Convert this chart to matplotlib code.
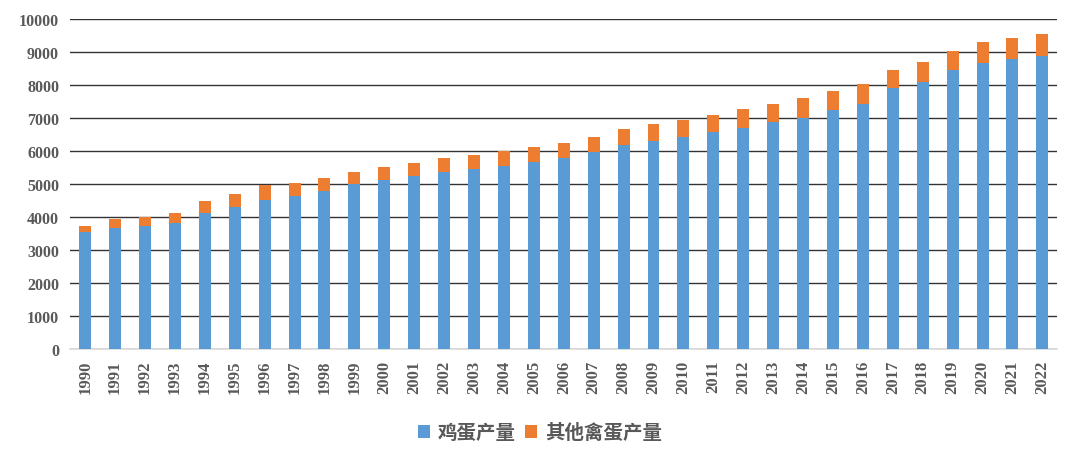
import matplotlib.pyplot as plt
import numpy as np

years = [str(y) for y in range(1990, 2023)]

# 鸡蛋产量 (blue part)
chicken = [3535, 3667, 3717, 3828, 4131, 4293, 4515, 4646, 4798, 4990,
           5115, 5232, 5364, 5455, 5556, 5667, 5798, 5980, 6192, 6303,
           6434, 6560, 6707, 6869, 7010, 7242, 7424, 7899, 8091, 8444,
           8667, 8778, 8879]
# total heights
total = [3735, 3940, 3990, 4131, 4485, 4697, 4980, 5020, 5175, 5354,
         5525, 5636, 5778, 5879, 6000, 6121, 6242, 6434, 6677, 6818,
         6949, 7091, 7273, 7424, 7596, 7808, 8020, 8465, 8687, 9040,
         9293, 9424, 9536]
# 其他禽蛋产量 (orange part)
other = [t - c for t, c in zip(total, chicken)]

BLUE = "#5B9BD5"
ORANGE = "#ED7D31"
GRAY = "#595959"

fig = plt.figure(figsize=(10.8, 4.64), dpi=100)
ax = fig.add_axes([0.065, 0.246, 0.914, 0.711])

x = np.arange(len(years))
ax.bar(x, chicken, width=0.4, color=BLUE, label="鸡蛋产量", zorder=3)
ax.bar(x, other, width=0.4, bottom=chicken, color=ORANGE, label="其他禽蛋产量", zorder=3)

ax.set_xlim(-0.5, len(years) - 0.5)
ax.set_ylim(0, 10000)
ax.set_yticks(range(0, 10001, 1000))
ax.yaxis.grid(True, color="#333333", linewidth=1.0, zorder=0)
ax.set_axisbelow(True)

for side in ("top", "right", "left"):
    ax.spines[side].set_visible(False)
ax.spines["bottom"].set_color("#d9d9d9")
ax.spines["bottom"].set_linewidth(1.2)
ax.tick_params(axis="both", length=0, pad=8)

ax.set_xticks(x)
ax.set_xticklabels(years, rotation=90, fontfamily="Liberation Serif",
                   fontweight="bold", fontsize=12, color=GRAY)
for lbl in ax.get_yticklabels():
    lbl.set_fontfamily("Liberation Serif")
    lbl.set_fontweight("bold")
    lbl.set_fontsize(11.5)
    lbl.set_color(GRAY)

leg = fig.legend(loc="center", bbox_to_anchor=(0.5, 0.065), ncol=2, frameon=False,
                 prop={"family": ["Noto Sans CJK SC", "DejaVu Sans"], "weight": "bold", "size": 14},
                 handlelength=0.6, handleheight=0.6, handletextpad=0.4, columnspacing=0.5)
for t in leg.get_texts():
    t.set_color(GRAY)

fig.savefig("out.png", dpi=100)
